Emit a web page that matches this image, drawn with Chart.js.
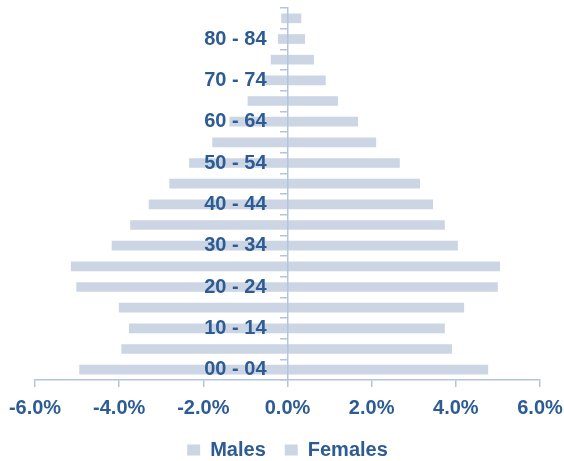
<!DOCTYPE html>
<html>
<head>
<meta charset="utf-8">
<script src="https://cdn.jsdelivr.net/npm/chart.js@4.4.1/dist/chart.umd.min.js"></script>
<style>
  html, body { margin: 0; padding: 0; background: #fff; }
  #wrap { width: 564px; height: 461px; }
</style>
</head>
<body>
<div id="wrap"><canvas id="pyramid"></canvas></div>
<script>
// age groups, youngest first (drawn bottom to top)
var ageGroups = ['00 - 04','05 - 09','10 - 14','15 - 19','20 - 24','25 - 29','30 - 34','35 - 39','40 - 44',
                 '45 - 49','50 - 54','55 - 59','60 - 64','65 - 69','70 - 74','75 - 79','80 - 84','85+'];
// share of total population, %  (males shown as negatives)
var males   = [-4.94,-3.94,-3.76,-4.00,-5.01,-5.14,-4.17,-3.73,-3.29,-2.80,-2.33,-1.78,-1.37,-0.94,-0.55,-0.39,-0.22,-0.14];
var females = [ 4.76, 3.90, 3.73, 4.19, 4.99, 5.04, 4.04, 3.73, 3.45, 3.14, 2.66, 2.10, 1.67, 1.19, 0.90, 0.62, 0.41, 0.32];
var xTicks  = [-6, -4, -2, 0, 2, 4, 6];

var textBlue = '#2d5b94';
var barBlue = '#cbd5e3';
var axisBlue = '#b3c4dc';
var font = 'Liberation Sans';

var ctx = document.getElementById('pyramid').getContext('2d');
var chart = new Chart(ctx, {
    type: 'bar',
    data: {
        labels: ageGroups,
        datasets: [{
            label: 'Males',
            data: males,
            backgroundColor: barBlue,
            barThickness: 9
        }, {
            label: 'Females',
            data: females,
            backgroundColor: barBlue,
            barThickness: 9
        }]
    },
    options: {
        indexAxis: 'y',
        responsive: true,
        maintainAspectRatio: false,
        animation: false,
        layout: { padding: { left: 35, right: 24, top: 8, bottom: -9 } },
        plugins: {
            tooltip: { enabled: false },
            legend: {
                position: 'bottom',
                labels: {
                    color: textBlue,
                    font: { family: font, size: 20, weight: 'bold' },
                    boxWidth: 13,
                    boxHeight: 11,
                    padding: 19
                }
            }
        },
        scales: {
            x: {
                min: -6,
                max: 6,
                afterBuildTicks: function (axis) {
                    axis.ticks = xTicks.map(function (v) { return { value: v }; });
                },
                afterFit: function (s) {
                    s.height = 41;
                    s.paddingLeft = 0;
                    s.paddingRight = 0;
                },
                border: { color: axisBlue, width: 1.5 },
                grid: { drawOnChartArea: false, color: axisBlue, tickLength: 7, lineWidth: 1.5 },
                ticks: {
                    color: textBlue,
                    padding: 9,
                    font: { family: font, size: 20, weight: 'bold' },
                    callback: function (v) { return v.toFixed(1) + '%'; }
                }
            },
            y: {
                position: 'center',
                stacked: true,
                reverse: true,
                afterFit: function (s) {
                    s.paddingTop = 0;
                    s.paddingBottom = 0;
                },
                border: { color: axisBlue, width: 1.5, z: 1 },
                grid: { drawOnChartArea: false, color: axisBlue, tickLength: 7, lineWidth: 1.5, offset: true, z: 1 },
                ticks: {
                    z: 2,
                    color: textBlue,
                    padding: 14,
                    autoSkip: false,
                    font: { family: font, size: 20, weight: 'bold' },
                    callback: function (v, i) { return i % 2 === 0 ? ageGroups[i] : ''; }
                }
            }
        }
    }
});
</script>
</body>
</html>
